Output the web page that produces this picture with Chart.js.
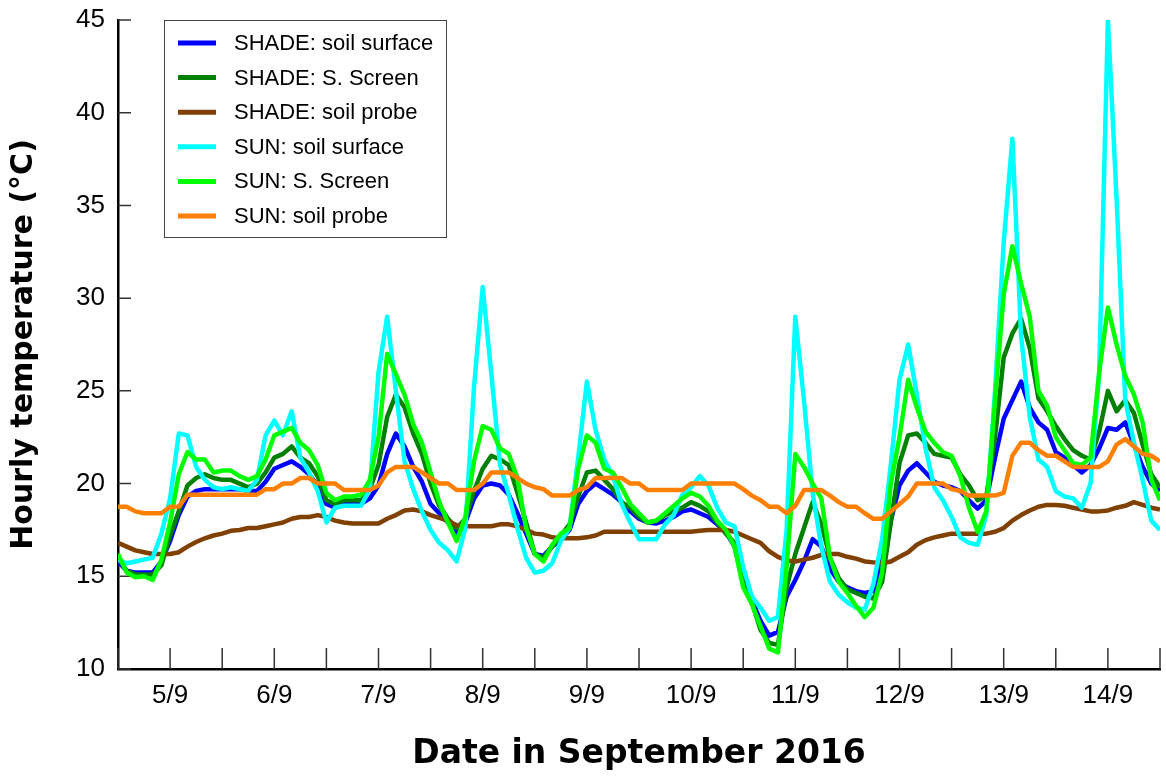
<!DOCTYPE html>
<html>
<head>
<meta charset="utf-8">
<script src="https://cdn.jsdelivr.net/npm/chart.js@4.4.0/dist/chart.umd.min.js"></script>
<style>
  html, body { margin: 0; padding: 0; background: #fff; }
</style>
</head>
<body>
<canvas id="chart" width="1166" height="776"></canvas>
<script>
// readings every 2 hours, starting 4/9 12:00
const startDay = 4.5
const stepDays = 2 / 24

const dayLabels = ['5/9', '6/9', '7/9', '8/9', '9/9', '10/9', '11/9', '12/9', '13/9', '14/9']

const seriesNames = [
  'SHADE: soil surface',
  'SHADE: S. Screen',
  'SHADE: soil probe',
  'SUN: soil surface',
  'SUN: S. Screen',
  'SUN: soil probe'
]

const shadeSurface = [
  15.8, 15.3, 15.2, 15.2, 15.2, 15.8, 16.9, 18.3, 19.3, 19.6,
  19.7, 19.7, 19.7, 19.7, 19.7, 19.6, 19.6, 20.1, 20.8, 21.0,
  21.2, 20.9, 20.5, 19.9, 18.9, 18.7, 18.9, 18.9, 18.9, 19.2,
  19.9, 21.6, 22.7, 22.0, 20.9, 20.1, 18.9, 18.4, 17.9, 17.3,
  17.9, 19.2, 19.9, 20.0, 19.9, 19.4, 18.4, 17.3, 16.2, 16.1,
  16.6, 17.0, 17.5, 18.9, 19.6, 20.0, 19.7, 19.4, 19.0, 18.5,
  18.1, 17.9, 17.85, 18.0, 18.2, 18.5, 18.6, 18.4, 18.2, 17.8,
  17.4, 16.6, 14.8, 13.7, 12.6, 11.8, 12.0, 13.9, 14.8, 15.8,
  17.0, 16.6, 15.4, 14.7, 14.4, 14.2, 14.1, 14.2, 15.8, 18.0,
  19.9, 20.7, 21.1, 20.6, 20.1, 19.9, 19.8, 19.6, 19.1, 18.65,
  19.1, 21.4, 23.5, 24.5, 25.5, 24.1, 23.3, 22.9, 21.7, 21.4,
  21.0, 20.6, 21.0, 21.9, 23.0, 22.9, 23.3, 22.1, 20.9, 20.0, 19.6
]

const shadeScreen = [
  16.0, 15.3, 15.1, 15.1, 15.1, 15.6, 17.2, 18.5, 19.9, 20.3,
  20.5, 20.3, 20.2, 20.2, 20.0, 19.8, 20.0, 20.6, 21.4, 21.6,
  22.0, 21.4, 21.1, 20.4, 19.1, 18.9, 19.1, 19.1, 19.1, 19.7,
  21.0, 23.6, 24.8, 24.1, 22.7, 21.6, 20.0, 18.8, 18.1, 17.6,
  18.1, 19.6, 20.8, 21.5, 21.3, 21.0, 19.5, 17.9, 16.2, 16.0,
  16.6, 17.2, 17.8, 19.3, 20.6, 20.7, 20.2, 19.7, 19.0, 18.7,
  18.2, 17.9, 18.0, 18.3, 18.5, 18.7, 19.0, 18.8, 18.5, 17.9,
  17.3, 16.8, 15.1, 13.6, 12.1, 11.4, 11.3, 14.4, 16.2, 17.6,
  19.0, 17.8, 16.0, 14.9, 14.3, 14.1, 13.9, 13.8, 14.7, 17.9,
  21.1, 22.6, 22.7, 22.2, 21.6, 21.5, 21.4, 20.5, 19.9, 19.1,
  19.3, 22.5, 26.8, 28.1, 28.9, 27.3, 24.6, 23.9, 23.1, 22.4,
  21.8, 21.5, 21.3, 22.8, 25.0, 23.9, 24.5, 23.8, 22.1, 20.5, 19.8
]

const shadeProbe = [
  16.8, 16.6, 16.4, 16.3, 16.2, 16.2, 16.2, 16.3, 16.6, 16.85,
  17.05, 17.2, 17.3, 17.45, 17.5, 17.6, 17.6, 17.7, 17.8, 17.9,
  18.1, 18.2, 18.2, 18.3, 18.2, 18.0, 17.9, 17.85, 17.85, 17.85,
  17.85, 18.1, 18.3, 18.55, 18.6, 18.5, 18.3, 18.15, 18.0, 17.75,
  17.7, 17.7, 17.7, 17.7, 17.8, 17.8, 17.7, 17.5, 17.3, 17.25,
  17.1, 17.05, 17.05, 17.05, 17.1, 17.2, 17.4, 17.4, 17.4, 17.4,
  17.4, 17.4, 17.4, 17.4, 17.4, 17.4, 17.4, 17.45, 17.5, 17.5,
  17.5, 17.4, 17.2, 17.0, 16.8, 16.35, 16.05, 15.85, 15.8, 15.9,
  16.0, 16.15, 16.2, 16.2, 16.05, 15.95, 15.8, 15.75, 15.7, 15.8,
  16.05, 16.3, 16.7, 16.95, 17.1, 17.2, 17.3, 17.3, 17.3, 17.3,
  17.3, 17.4, 17.6, 18.0, 18.3, 18.55, 18.75, 18.85, 18.85, 18.8,
  18.7, 18.6, 18.5, 18.5, 18.55, 18.7, 18.8, 19.0, 18.85, 18.7, 18.6
]

const sunSurface = [
  15.9, 15.7, 15.8, 15.9, 16.0, 17.3, 19.2, 22.7, 22.6, 20.9,
  20.2, 19.8, 19.7, 19.8, 19.7, 19.6, 20.2, 22.6, 23.4, 22.6,
  23.9, 21.4, 20.6, 19.6, 17.9, 18.7, 18.8, 18.8, 18.8, 19.7,
  26.0, 29.0, 25.0, 21.2, 19.7, 18.5, 17.5, 16.8, 16.4, 15.8,
  17.6, 25.2, 30.6, 25.9, 21.0, 19.4, 17.6, 16.0, 15.2, 15.3,
  15.7, 16.9, 17.6, 21.4, 25.5, 22.9, 21.3, 20.4, 18.9, 17.9,
  17.0, 17.0, 17.0, 17.8, 18.3, 19.4, 19.8, 20.4, 19.9, 18.7,
  17.9, 17.7, 15.5, 13.9, 13.3, 12.6, 12.8, 17.5, 29.0, 24.5,
  19.5, 16.6, 14.7, 14.0, 13.6, 13.3, 13.2, 14.6, 17.0, 21.0,
  25.6, 27.5, 24.8, 21.9, 19.8, 19.1, 18.2, 17.1, 16.8, 16.7,
  18.3, 25.0, 33.0, 38.6, 28.0, 23.6, 21.3, 20.9, 19.6, 19.3,
  19.2, 18.7, 20.0, 26.0, 45.0, 35.4, 24.5, 22.2, 20.2, 18.0, 17.5
]

const sunScreen = [
  16.2, 15.2, 14.95, 15.0, 14.8, 15.9, 17.9, 20.5, 21.7, 21.3,
  21.3, 20.6, 20.7, 20.7, 20.4, 20.2, 20.4, 21.3, 22.6, 22.8,
  23.0, 22.2, 21.8, 21.0, 19.5, 19.1, 19.3, 19.3, 19.4, 20.2,
  22.5, 27.0, 25.9, 24.8, 23.2, 22.2, 20.6, 19.0, 17.9, 16.9,
  18.2, 21.2, 23.1, 22.9, 21.9, 21.6, 20.3, 17.6, 16.2, 15.8,
  16.7, 17.3, 17.6, 20.8, 22.6, 22.2, 20.8, 20.6, 19.8, 18.9,
  18.4, 17.9, 18.0, 18.4, 18.8, 19.2, 19.5, 19.3, 18.8, 18.0,
  17.5, 16.6, 14.4, 13.5, 12.3, 11.1, 10.9, 15.5, 21.6, 20.9,
  20.0, 19.2, 16.0, 14.7, 14.1, 13.4, 12.8, 13.3, 15.2, 20.0,
  22.5, 25.6, 24.1, 22.8, 22.2, 21.7, 21.5, 20.4, 18.7, 17.4,
  18.5, 24.5, 30.2, 32.8, 30.8, 29.0, 25.0, 24.2, 22.5, 21.8,
  21.1, 21.0, 21.4, 26.0, 29.5, 27.5, 25.8, 24.8, 23.3, 20.2, 19.1
]

const sunProbe = [
  18.75, 18.75, 18.5, 18.4, 18.4, 18.4, 18.75, 18.75, 19.4, 19.4,
  19.4, 19.4, 19.4, 19.4, 19.4, 19.4, 19.4, 19.7, 19.7, 20.0,
  20.0, 20.3, 20.3, 20.0, 20.0, 20.0, 19.65, 19.65, 19.65, 19.65,
  19.9, 20.6, 20.9, 20.9, 20.9, 20.6, 20.3, 20.0, 20.0, 19.65,
  19.65, 19.65, 20.0, 20.6, 20.6, 20.6, 20.3, 20.0, 19.8, 19.7,
  19.35, 19.35, 19.35, 19.65, 19.8, 20.3, 20.3, 20.3, 20.3, 20.0,
  20.0, 19.65, 19.65, 19.65, 19.65, 19.65, 20.0, 20.0, 20.0, 20.0,
  20.0, 20.0, 19.7, 19.35, 19.1, 18.75, 18.75, 18.4, 18.8, 19.65,
  19.65, 19.65, 19.35, 19.0, 18.75, 18.75, 18.4, 18.1, 18.1, 18.5,
  18.9, 19.3, 20.0, 20.0, 20.0, 20.0, 19.7, 19.6, 19.35, 19.35,
  19.35, 19.35, 19.5, 21.5, 22.2, 22.2, 21.8, 21.5, 21.5, 21.2,
  20.9, 20.9, 20.9, 20.9, 21.2, 22.1, 22.4, 22.0, 21.6, 21.5, 21.2
]

const seriesValues = [shadeSurface, shadeScreen, shadeProbe, sunSurface, sunScreen, sunProbe]
const seriesColors = ['#0000ff', '#008000', '#804000', '#00ffff', '#00ff00', '#ff8000']

Chart.defaults.font.family = '"Liberation Sans", Arial, sans-serif'
Chart.defaults.color = '#000'

const datasets = seriesValues.map((vals, i) => ({
  label: seriesNames[i],
  data: vals.map((v, k) => ({ x: startDay + k * stepDays, y: v })),
  borderColor: seriesColors[i],
  backgroundColor: seriesColors[i],
  borderWidth: 4.5,
  borderJoinStyle: 'round',
  pointRadius: 0,
  tension: 0,
  fill: false,
  order: seriesValues.length - 1 - i // last series on top
}))

// tick marks pointing into the plot
const innerTicks = {
  id: 'innerTicks',
  beforeDatasetsDraw(chart) {
    const { ctx, chartArea, scales } = chart
    ctx.save()
    ctx.strokeStyle = '#333'
    ctx.lineWidth = 1.5
    ctx.beginPath()
    scales.x.ticks.forEach(t => {
      const px = scales.x.getPixelForValue(t.value)
      ctx.moveTo(px, chartArea.bottom)
      ctx.lineTo(px, chartArea.bottom - 21)
    })
    scales.y.ticks.forEach(t => {
      const py = scales.y.getPixelForValue(t.value)
      ctx.moveTo(chartArea.left, py)
      ctx.lineTo(chartArea.left + 13, py)
    })
    ctx.stroke()
    ctx.restore()
  }
}

// boxed legend in the upper left of the plot
const boxLegend = {
  id: 'boxLegend',
  afterDraw(chart) {
    const { ctx } = chart
    ctx.save()
    ctx.fillStyle = '#fff'
    ctx.fillRect(164, 20, 282, 217)
    ctx.strokeStyle = '#444'
    ctx.lineWidth = 1
    ctx.strokeRect(164.5, 20.5, 282, 217)
    ctx.font = '22px "Liberation Sans", Arial, sans-serif'
    ctx.textBaseline = 'middle'
    chart.data.datasets.forEach((ds, i) => {
      const y = 43 + i * 34.6
      ctx.strokeStyle = ds.borderColor
      ctx.lineWidth = 5
      ctx.beginPath()
      ctx.moveTo(178, y)
      ctx.lineTo(216, y)
      ctx.stroke()
      ctx.fillStyle = '#000'
      ctx.fillText(ds.label, 234, y + 1)
    })
    ctx.restore()
  }
}

const ctx = document.getElementById('chart').getContext('2d')

new Chart(ctx, {
  type: 'line',
  data: { datasets: datasets },
  options: {
    responsive: false,
    animation: false,
    layout: { padding: { top: 20, right: 6, bottom: 0, left: 0 } },
    plugins: {
      legend: { display: false },
      tooltip: { enabled: false }
    },
    scales: {
      x: {
        type: 'linear',
        min: 4.5,
        max: 14.5,
        afterFit(scale) {
          scale.height = 107
          scale.paddingLeft = 0
          scale.paddingRight = 0
        },
        ticks: {
          stepSize: 0.5,
          autoSkip: false,
          maxRotation: 0,
          padding: 11,
          font: { size: 26 },
          callback: v => Number.isInteger(v) ? dayLabels[v - 5] : ''
        },
        grid: { drawOnChartArea: false, drawTicks: false },
        border: { color: '#000', width: 2.5 },
        title: {
          display: true,
          text: 'Date in September 2016',
          font: { family: '"DejaVu Sans", sans-serif', size: 33, weight: 'bold' },
          padding: { top: 0, bottom: 2 }
        }
      },
      y: {
        min: 10,
        max: 45,
        afterFit(scale) {
          scale.width = 118
          scale.paddingTop = 0
          scale.paddingBottom = 0
        },
        ticks: {
          stepSize: 5,
          padding: 13,
          font: { size: 26 }
        },
        grid: { drawOnChartArea: false, drawTicks: false },
        border: { color: '#000', width: 2.5 },
        title: {
          display: true,
          text: 'Hourly temperature (°C)',
          font: { family: '"DejaVu Sans", sans-serif', size: 30, weight: 'bold' },
          padding: { top: 6, bottom: 0 }
        }
      }
    }
  },
  plugins: [innerTicks, boxLegend]
})
</script>
</body>
</html>
